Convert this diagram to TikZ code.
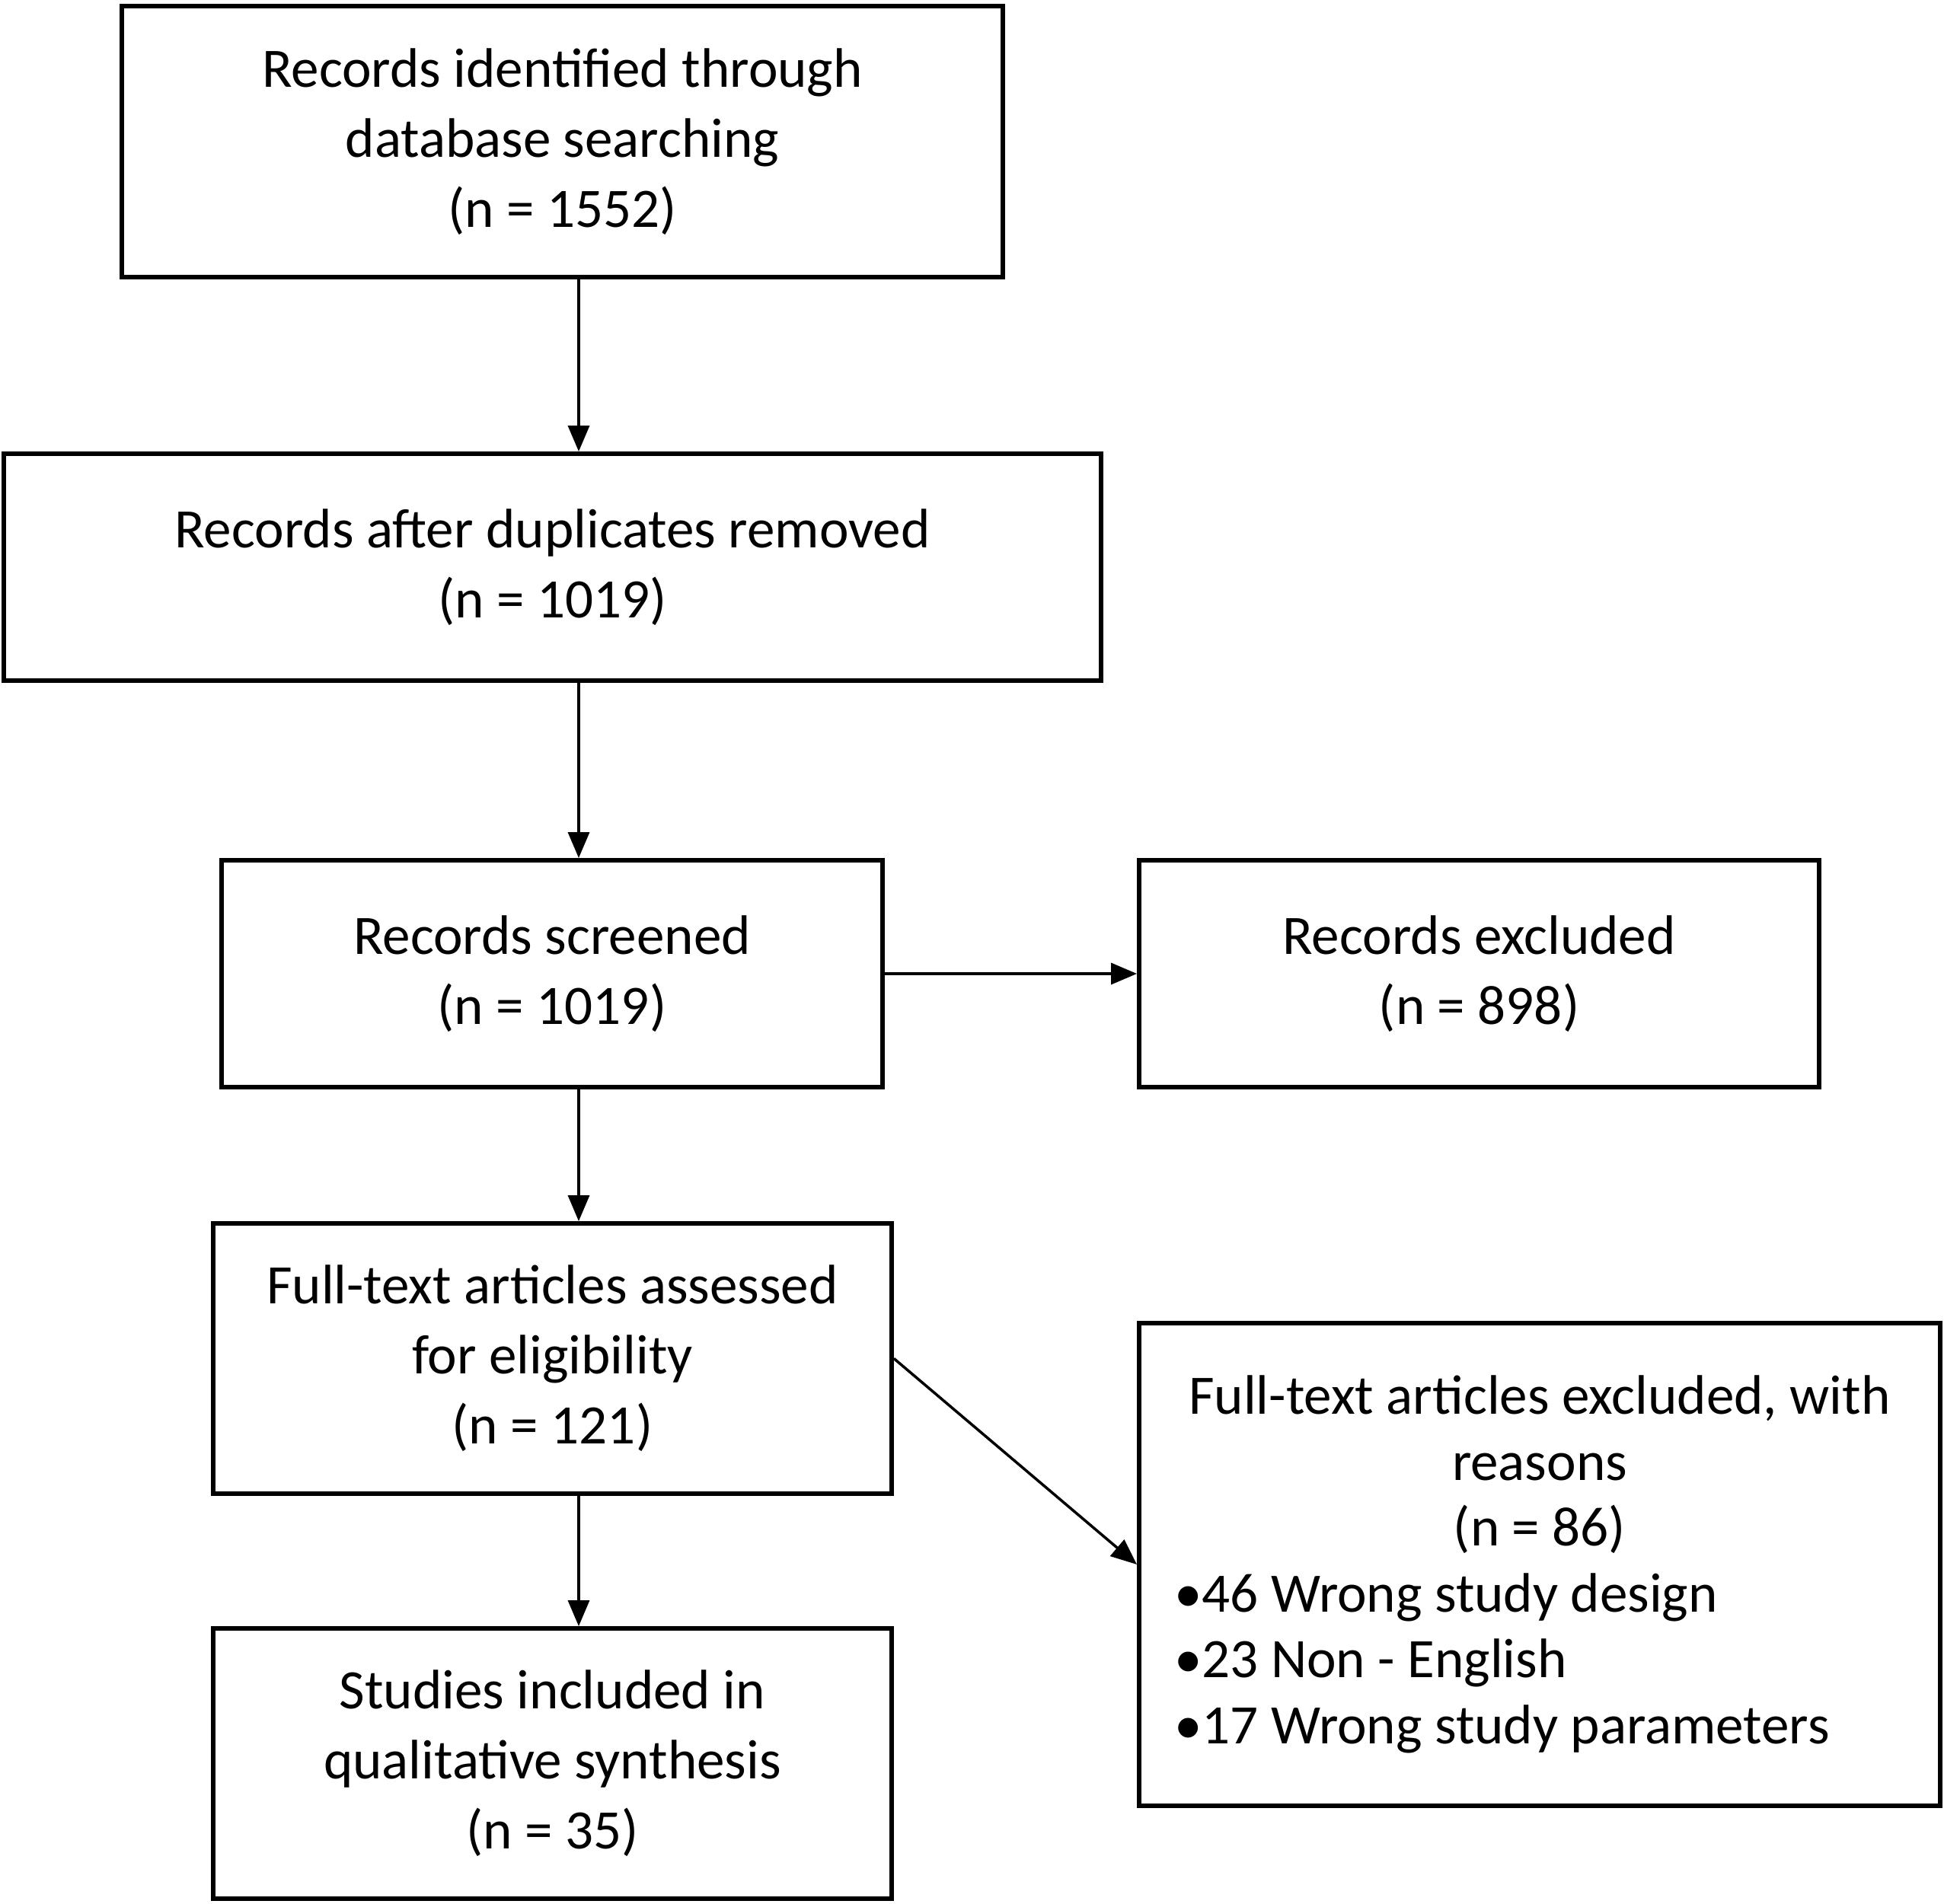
\documentclass[tikz,border=0pt]{standalone}
\usepackage{fontspec}
\setmainfont{Carlito}
\usetikzlibrary{positioning}
\usetikzlibrary{arrows.meta}

\begin{document}
\begin{tikzpicture}[
	box/.style={draw=black, line width=1.7pt, align=center, inner sep=0pt,
		font=\fontsize{20.8}{26.2}\selectfont},
	flow/.style={line width=1pt, -{Triangle[length=0.34cm,width=0.28cm]}}
]

	\useasboundingbox (0,0) rectangle (25.53,-25);

	% main column
	\node[box, minimum width=11.57cm, minimum height=3.56cm] (identified) at (7.385,-1.86)
		{Records identified through\\ database searching\\ (n = 1552)};
	\node[box, minimum width=14.41cm, minimum height=2.98cm] (duplicates) at (7.255,-7.45)
		{Records after duplicates removed\\ (n = 1019)};
	\node[box, minimum width=8.68cm, minimum height=2.98cm] (screened) at (7.25,-12.79)
		{Records screened\\ (n = 1019)};
	\node[box, minimum width=8.91cm, minimum height=3.55cm] (fulltext) at (7.255,-17.845)
		{Full-text articles assessed\\ for eligibility\\ (n = 121)};
	\node[box, minimum width=8.91cm, minimum height=3.55cm] (included) at (7.255,-23.165)
		{Studies included in\\ qualitative synthesis\\ (n = 35)};

	% side boxes
	\node[box, minimum width=8.93cm, minimum height=2.98cm] (excluded) at (19.425,-12.79)
		{Records excluded\\ (n = 898)};
	\node[box, minimum width=10.52cm, minimum height=6.34cm, text width=9.6cm, align=none,
		font=\fontsize{20.8}{24.6}\selectfont] (reasons) at (20.22,-20.55)
		{\centering Full-text articles excluded, with\\ reasons\\ (n = 86)\par
		\raggedright \textbullet 46 Wrong study design\\
		\textbullet 23 Non - English\\
		\textbullet 17 Wrong study parameters\par};

	% arrows
	\coordinate (spine) at (7.6,0);
	\draw[flow] (identified.south -| spine) -- (duplicates.north -| spine);
	\draw[flow] (duplicates.south -| spine) -- (screened.north -| spine);
	\draw[flow] (screened.south -| spine) -- (fulltext.north -| spine);
	\draw[flow] (fulltext.south -| spine) -- (included.north -| spine);
	\draw[flow] (screened.east) -- (excluded.west);
	\draw[flow] (fulltext.east) -- (reasons.west);

\end{tikzpicture}
\end{document}
